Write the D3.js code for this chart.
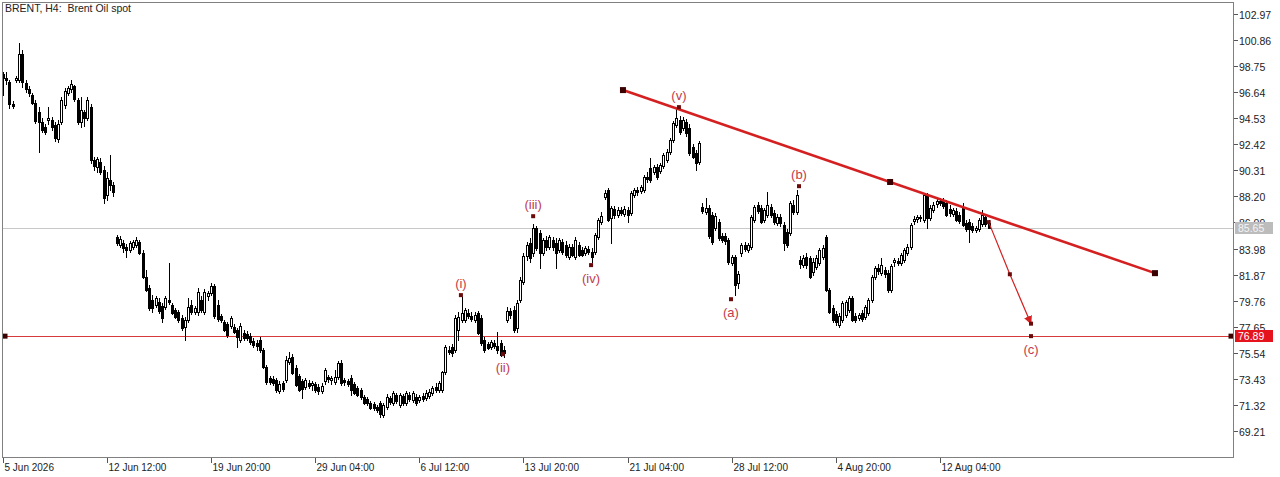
<!DOCTYPE html>
<html><head><meta charset="utf-8">
<script src="https://cdn.jsdelivr.net/npm/d3@7"></script>
<style>body{margin:0;background:#fff}svg{display:block}text{font-family:"Liberation Sans",Arial,sans-serif}</style>
</head><body><svg id="c" width="1280" height="477"></svg>
<script>
// H4 candles: [open, high, low, close]
const ohlc = [
[97.94,98.27,97.62,98.11],[98.11,98.27,96.40,97.78],[97.78,98.27,97.30,97.62],[97.46,97.62,95.35,95.68],[95.68,95.92,95.35,95.51],
[97.62,97.94,97.46,97.78],[97.62,100.62,97.46,99.73],[99.73,100.05,97.05,97.46],[97.38,97.62,96.65,96.89],[96.89,97.13,96.32,96.57],
[96.40,96.57,95.68,95.76],[95.76,96.00,94.14,94.30],[95.03,95.43,91.79,94.22],[94.22,94.54,93.41,93.57],[93.81,94.06,93.25,93.41],
[94.38,95.43,94.06,94.54],[94.38,94.62,93.57,93.81],[93.98,94.22,92.68,92.92],[92.84,94.38,92.60,94.06],[94.22,96.24,94.06,96.00],
[95.60,96.97,95.35,96.73],[96.57,97.13,96.40,96.97],[96.89,97.62,96.65,97.30],[97.13,97.22,95.92,96.08],[96.00,96.16,94.06,94.22],
[94.22,96.24,93.81,95.19],[95.03,95.19,93.89,94.54],[94.54,96.24,94.38,96.00],[95.43,95.68,90.90,91.14],[91.14,91.38,90.33,90.65],
[90.57,91.38,90.17,91.22],[90.98,91.30,90.01,90.17],[90.33,90.65,87.66,88.06],[88.31,90.17,87.90,89.68],[89.52,91.55,88.71,89.12],
[89.12,89.36,88.23,88.55],[84.90,85.07,84.26,84.42],[84.26,84.98,84.09,84.74],[84.42,84.66,83.69,84.01],[84.09,84.34,83.28,83.85],
[83.85,84.58,83.69,84.42],[84.09,84.66,83.93,84.50],[84.26,84.90,84.09,84.66],[84.50,84.66,83.53,83.61],[83.61,83.85,81.58,81.66],
[81.66,82.23,80.53,80.61],[80.77,81.02,78.99,79.15],[79.80,80.21,78.83,79.15],[79.40,80.12,79.23,79.96],[79.64,79.96,78.75,78.91],
[79.31,79.56,78.02,78.34],[79.23,80.12,79.07,79.96],[79.80,82.80,79.48,79.64],[79.40,79.56,78.67,78.75],[78.99,79.15,78.34,78.42],
[78.83,78.99,78.02,78.18],[78.34,78.59,77.37,77.53],[77.61,78.42,76.56,78.18],[78.18,79.96,78.02,79.23],[79.40,79.80,78.67,78.83],
[78.83,79.31,78.67,79.15],[78.83,80.77,78.59,80.45],[79.80,80.12,78.83,78.99],[78.83,80.69,78.67,80.45],[80.12,80.53,79.80,80.37],
[80.37,81.18,80.21,80.93],[80.93,81.10,78.34,78.50],[79.40,79.80,78.10,78.26],[78.50,78.67,78.02,78.18],[78.02,78.18,77.29,77.37],
[77.86,78.02,76.81,76.97],[77.69,78.50,77.53,78.34],[77.61,77.86,77.13,77.21],[77.37,77.53,76.00,76.81],[76.56,77.94,76.40,77.69],
[77.13,77.37,76.56,76.72],[77.05,77.29,76.56,76.72],[76.89,77.13,76.24,76.40],[76.48,76.72,76.00,76.16],[76.32,76.56,75.75,76.08],
[76.56,76.81,75.59,75.75],[75.75,75.91,74.29,74.37],[74.37,74.54,72.99,73.16],[73.48,73.64,72.99,73.16],[73.40,73.64,72.92,73.08],
[73.32,73.48,72.35,72.51],[72.43,73.24,72.27,72.99],[73.08,73.24,72.43,72.59],[73.32,75.27,73.16,74.94],[74.78,75.59,74.62,75.10],
[75.18,75.43,73.81,73.89],[74.29,74.54,72.83,72.92],[73.64,73.81,72.43,72.51],[73.24,73.40,71.86,72.59],[72.75,73.48,72.59,73.32],
[73.08,73.32,72.67,72.83],[72.92,73.24,72.51,73.08],[73.00,73.16,72.35,72.51],[72.75,73.00,72.19,72.43],[72.43,73.08,72.27,72.83],
[73.24,74.29,72.99,74.13],[73.56,73.73,73.16,73.40],[73.32,73.64,72.99,73.48],[73.16,74.13,72.99,73.56],[73.56,74.86,73.40,74.70],
[74.70,74.94,72.92,73.08],[73.32,73.48,72.92,73.16],[73.24,73.40,72.83,73.00],[73.48,73.73,72.11,72.51],[73.00,73.16,72.19,72.27],
[72.67,72.83,72.03,72.11],[72.51,72.67,71.78,71.94],[71.94,72.11,71.38,71.46],[71.78,71.94,71.30,71.46],[71.46,71.62,70.97,71.05],
[71.38,71.54,70.89,71.05],[71.13,71.30,70.73,70.89],[71.46,71.62,70.32,70.57],[70.49,71.46,70.32,71.30],[71.13,72.19,70.97,71.94],
[71.86,72.03,71.38,71.54],[71.46,72.43,71.30,72.27],[72.11,72.27,71.46,71.62],[71.30,72.27,71.13,72.11],[72.03,72.19,71.30,71.46],
[71.46,72.43,71.30,72.27],[72.11,72.35,71.62,71.78],[71.70,72.43,71.54,72.27],[71.94,72.19,71.30,71.46],[71.70,72.11,71.54,71.94],
[72.03,72.27,71.62,71.78],[71.86,72.51,71.70,72.27],[72.03,72.59,71.86,72.35],[72.27,72.83,72.11,72.67],[72.75,73.08,72.35,72.51],
[72.51,73.24,72.35,73.08],[72.51,74.05,72.35,73.97],[73.97,76.16,73.81,76.00],[75.75,76.08,75.43,75.59],[76.00,76.24,75.27,75.51],
[75.75,78.59,75.59,78.34],[77.37,78.83,76.56,78.42],[78.18,80.05,78.02,78.75],[78.18,79.15,78.02,78.99],[78.75,79.07,78.34,78.50],
[78.50,78.83,78.10,78.26],[78.18,78.83,78.02,78.59],[78.75,78.91,77.05,77.13],[78.34,78.59,76.16,76.32],[76.56,76.81,75.59,75.75],
[76.24,76.40,75.83,75.91],[76.00,76.56,75.83,76.40],[76.32,76.56,75.91,76.08],[76.08,77.21,75.51,75.75],[76.32,76.56,75.27,75.35],
[75.75,76.08,75.18,75.51],[78.18,79.23,78.02,78.91],[78.91,79.15,78.34,78.59],[78.99,79.31,77.21,77.37],[77.53,79.80,77.21,79.56],
[79.80,81.66,79.64,81.42],[81.26,83.61,81.10,83.36],[83.36,84.50,83.04,84.26],[84.42,84.82,82.88,83.20],[83.61,85.96,83.36,85.63],
[85.63,85.80,83.85,84.01],[85.23,85.47,82.39,83.61],[83.61,84.82,83.45,84.66],[84.66,84.98,83.85,84.09],[84.09,85.07,83.93,84.90],
[84.66,84.90,83.85,84.09],[84.42,84.82,82.39,83.61],[83.85,84.82,83.69,84.66],[84.50,84.74,83.53,83.69],[84.26,84.58,83.28,83.45],
[83.28,84.34,83.12,84.09],[84.09,84.34,83.36,83.45],[83.28,84.90,83.12,84.66],[84.26,84.50,83.36,83.45],[83.85,84.09,83.36,83.45],
[83.61,84.17,83.45,84.01],[83.93,84.17,83.53,83.69],[83.69,84.01,82.88,83.28],[83.69,85.23,83.53,85.07],[84.90,86.44,84.74,86.28],
[86.12,86.93,85.96,86.61],[88.14,88.71,87.98,88.47],[88.71,88.87,86.20,86.28],[86.44,87.41,84.42,87.25],[87.17,87.41,86.44,86.69],
[86.69,87.33,86.52,87.09],[87.09,87.33,86.69,86.85],[86.77,87.41,86.61,87.17],[87.09,87.33,86.12,86.69],[86.85,88.63,86.69,88.47],
[88.31,88.87,88.14,88.71],[88.71,88.95,88.31,88.55],[88.63,89.12,88.47,88.95],[88.71,89.93,88.55,89.77],[89.77,90.17,89.36,89.60],
[90.49,91.30,89.36,89.52],[90.17,90.74,90.01,90.57],[90.57,90.82,89.60,89.77],[90.25,90.90,90.09,90.74],[90.65,91.71,90.49,91.55],
[91.14,92.03,90.98,91.79],[91.79,92.92,91.63,92.76],[92.76,94.30,92.60,94.14],[93.98,95.35,93.81,94.54],[94.38,94.70,93.25,93.41],
[93.73,94.62,93.57,94.38],[94.22,94.46,93.09,93.33],[93.73,94.06,91.55,91.71],[92.19,92.44,91.30,91.38],[91.71,91.95,90.33,90.90],
[90.98,92.68,90.82,92.52],[87.33,87.66,86.85,87.01],[86.93,88.06,86.77,87.25],[87.25,87.50,84.82,84.98],[86.69,86.93,84.34,84.50],
[85.63,86.85,85.47,86.61],[86.12,86.36,84.66,84.82],[84.98,85.23,84.50,84.66],[84.98,85.23,84.34,84.58],[84.66,84.82,82.72,82.88],
[82.80,83.45,82.64,83.28],[83.28,83.45,80.21,81.02],[81.18,82.15,80.77,81.91],[83.61,84.42,83.36,84.26],[84.26,84.50,83.77,83.93],
[83.85,84.42,83.69,84.26],[84.09,86.69,83.93,86.52],[86.28,87.50,86.12,87.33],[87.50,87.74,86.85,87.01],[87.25,87.50,86.04,86.12],
[86.28,87.25,86.12,87.09],[86.69,88.55,86.52,87.50],[87.33,87.58,86.52,86.69],[86.85,87.09,85.96,86.12],[86.04,86.77,85.88,86.52],
[86.52,86.77,85.80,86.04],[85.88,86.12,83.85,84.42],[85.31,85.55,84.09,84.26],[85.23,87.82,85.07,87.66],[87.50,87.90,86.77,86.93],
[86.93,88.71,86.77,88.31],[83.04,83.36,82.39,82.72],[82.64,83.45,82.48,83.20],[83.28,83.61,82.39,82.64],[83.20,83.36,81.58,81.66],
[82.07,83.20,81.83,82.88],[82.48,83.45,82.31,83.20],[82.80,84.01,82.64,83.85],[83.28,84.26,83.12,84.01],[84.90,85.07,80.53,80.61],
[80.61,80.77,78.75,78.83],[79.15,79.40,78.02,78.18],[78.67,78.91,77.78,78.02],[77.78,78.75,77.61,78.50],[78.18,79.72,78.02,79.56],
[78.59,79.80,78.42,79.64],[78.99,80.12,78.83,79.96],[79.96,80.12,78.10,78.18],[78.50,78.75,78.02,78.18],[78.34,78.75,78.18,78.59],
[78.75,78.99,78.10,78.26],[78.42,79.40,78.26,79.23],[78.75,79.96,78.59,79.80],[79.80,81.83,79.64,81.66],[81.66,82.56,81.50,82.39],
[82.39,82.72,81.91,82.15],[81.99,83.20,81.83,82.64],[82.23,82.48,81.66,81.91],[81.99,82.23,80.45,80.61],[80.61,82.72,80.45,82.56],
[82.88,83.20,82.56,83.04],[82.96,83.20,82.64,82.80],[82.80,83.61,82.64,83.45],[83.04,84.01,82.88,83.85],[83.61,84.34,83.45,84.09],
[84.09,86.04,83.93,85.88],[86.20,86.61,85.96,86.36],[86.36,86.69,86.12,86.52],[86.44,86.69,86.20,86.52],[86.28,88.47,86.12,88.31],
[88.31,88.47,85.63,86.44],[86.44,87.50,86.28,87.25],[87.09,87.74,86.93,87.50],[87.58,87.98,87.33,87.82],[87.82,88.06,87.50,87.66],
[87.82,88.06,87.25,87.41],[87.66,87.90,86.61,86.69],[87.17,87.50,86.61,86.85],[86.77,87.25,86.61,87.09],[87.01,87.25,86.20,86.28],
[86.69,86.93,86.04,86.20],[87.33,87.66,85.80,85.88],[86.04,86.28,85.39,85.55],[86.12,86.36,84.50,85.55],[85.80,86.04,85.31,85.47],
[85.47,85.80,85.31,85.63],[85.55,86.44,85.39,86.28],[85.96,87.09,85.80,86.69],[86.52,86.77,85.80,85.96],[86.04,86.28,85.63,85.65]
];
const priceTicks = [102.97,100.86,98.75,96.64,94.53,92.42,90.31,88.20,86.09,83.98,81.87,79.76,77.65,75.54,73.43,71.32,69.21];
const timeTickBars = [1,33,65,97,129,161,193,225,257,289];
const timeTickLabels = ["5 Jun 2026","12 Jun 12:00","19 Jun 20:00","29 Jun 04:00","6 Jul 12:00","13 Jul 20:00","21 Jul 04:00","28 Jul 12:00","4 Aug 20:00","12 Aug 04:00"];
const lastPrice = 85.65;
const levelPrice = 76.89;
const trendBars = [191.6, 273.7, 355.1];
const trendPrices = [96.81, 89.37, 81.99];
const arrowBars = [304, 310.5, 317];
const arrowPrices = [86.12, 81.9, 77.9];
const waveNames = ["(i)","(ii)","(iii)","(iv)","(v)","(a)","(b)","(c)"];
const waveBars = [141.8, 154.7, 164, 181.8, 208.8, 224.8, 245.7, 317];
const wavePrices = [80.21, 75.43, 86.60, 82.64, 95.43, 79.88, 89.03, 76.89];
const waveAbove = [true,false,true,false,true,false,true,false];
const title = "BRENT, H4:  Brent Oil spot";

const L = 2, R = 1234, T = 2, B = 458;
const svg = d3.select("#c");
const x = d3.scaleLinear().domain([0, 304]).range([-0.5, 988.7]);
const y = d3.scaleLinear().domain([69.21, 102.97]).range([431, 14]);
const px = v => Math.round(v) + 0.5;

const defs = svg.append("defs");
defs.append("clipPath").attr("id","plot").append("rect").attr("x",L).attr("y",T).attr("width",R-L).attr("height",B-T);
defs.append("marker").attr("id","ah").attr("viewBox","0 0 10 10").attr("refX",9).attr("refY",5)
  .attr("markerWidth",7).attr("markerHeight",7).attr("orient","auto")
  .append("path").attr("d","M0,0 L10,5 L0,10 z").attr("fill","#d42020");

const g = svg.append("g").attr("clip-path","url(#plot)");

// last price line
g.append("line").attr("x1",L).attr("x2",R).attr("y1",px(y(lastPrice))).attr("y2",px(y(lastPrice)))
  .attr("stroke","#c8c8c8").attr("stroke-width",1);
// level line
g.append("line").attr("x1",L).attr("x2",R).attr("y1",px(y(levelPrice))).attr("y2",px(y(levelPrice)))
  .attr("stroke","#d63a3a").attr("stroke-width",1.2);
[L+3, R-3].forEach(cx => g.append("rect").attr("x",cx-2.5).attr("y",y(levelPrice)-2.5).attr("width",5).attr("height",5).attr("fill","#3a0000"));

// candles
const cg = g.append("g");
ohlc.forEach((d, i) => {
  const [o, h, l, c] = d;
  const cx = px(x(i));
  cg.append("line").attr("x1",cx).attr("x2",cx).attr("y1",Math.round(y(h))).attr("y2",Math.round(y(l))+1)
    .attr("stroke","#000").attr("stroke-width",1);
  const top = Math.round(y(Math.max(o,c))), bot = Math.round(y(Math.min(o,c)));
  const bull = c >= o;
  cg.append("rect").attr("x",cx-1).attr("y",top+0.5).attr("width",2).attr("height",Math.max(bot-top,1))
    .attr("fill", bull ? "#fff" : "#000").attr("stroke","#000").attr("stroke-width",1);
});

// trend line
const lineGen = d3.line().x(d => x(d[0])).y(d => y(d[1]));
const trendPts = trendBars.map((b,i) => [b, trendPrices[i]]);
g.append("path").attr("d", lineGen([trendPts[0], trendPts[trendPts.length-1]]))
  .attr("stroke","#d42020").attr("stroke-width",2.6).attr("fill","none");
trendPts.forEach(p => g.append("rect").attr("x",x(p[0])-3).attr("y",y(p[1])-3).attr("width",6).attr("height",6).attr("fill","#3a0000"));

// projection arrow
const arrowPts = arrowBars.map((b,i) => [b, arrowPrices[i]]);
g.append("path").attr("d", lineGen(arrowPts)).attr("stroke","#d42020").attr("stroke-width",1.2)
  .attr("fill","none").attr("marker-end","url(#ah)");
arrowPts.forEach(p => g.append("rect").attr("x",x(p[0])-2).attr("y",y(p[1])-2).attr("width",4).attr("height",4).attr("fill","#6a0a0a"));

// wave labels
waveNames.forEach((n, i) => {
  const mx = x(waveBars[i]), my = y(wavePrices[i]);
  g.append("rect").attr("x",mx-2).attr("y",my-2).attr("width",4).attr("height",4).attr("fill","#6a0a0a");
  g.append("text").attr("x",mx).attr("y", waveAbove[i] ? my-7 : my+18).attr("text-anchor","middle")
    .attr("font-size",13).attr("fill","#c23a4c").attr("font-family","DejaVu Sans, sans-serif").text(n);
});

// frame
svg.append("rect").attr("x",L+0.5).attr("y",T+0.5).attr("width",R-L-1).attr("height",B-T-1)
  .attr("fill","none").attr("stroke","#808080");

// y axis
priceTicks.forEach(p => {
  const yy = px(y(p));
  svg.append("line").attr("x1",R).attr("x2",R+4).attr("y1",yy).attr("y2",yy).attr("stroke","#555");
  svg.append("text").attr("x",R+5).attr("y",yy+4).attr("font-size",10.5).attr("fill","#222").text(p.toFixed(2));
});
// x axis
timeTickBars.forEach((b, i) => {
  const xx = px(x(b));
  svg.append("line").attr("x1",xx).attr("x2",xx).attr("y1",B).attr("y2",B+5).attr("stroke","#555");
  svg.append("text").attr("x",xx+1).attr("y",471).attr("font-size",10).attr("fill","#222").text(timeTickLabels[i]);
});

// price boxes
function priceBox(p, bg, fg) {
  const yy = Math.round(y(p));
  svg.append("rect").attr("x",R+1).attr("y",yy-6).attr("width",38).attr("height",12).attr("fill",bg);
  svg.append("text").attr("x",R+4).attr("y",yy+4).attr("font-size",10.5).attr("fill",fg).text(p.toFixed(2));
}
priceBox(lastPrice, "#bcbcbc", "#f4f4f4");
priceBox(levelPrice, "#e5141c", "#ffffff");

// title
svg.append("text").attr("x",5).attr("y",12).attr("font-size",10.5).attr("fill","#222")
  .style("white-space","pre").text(title);
</script></body></html>
